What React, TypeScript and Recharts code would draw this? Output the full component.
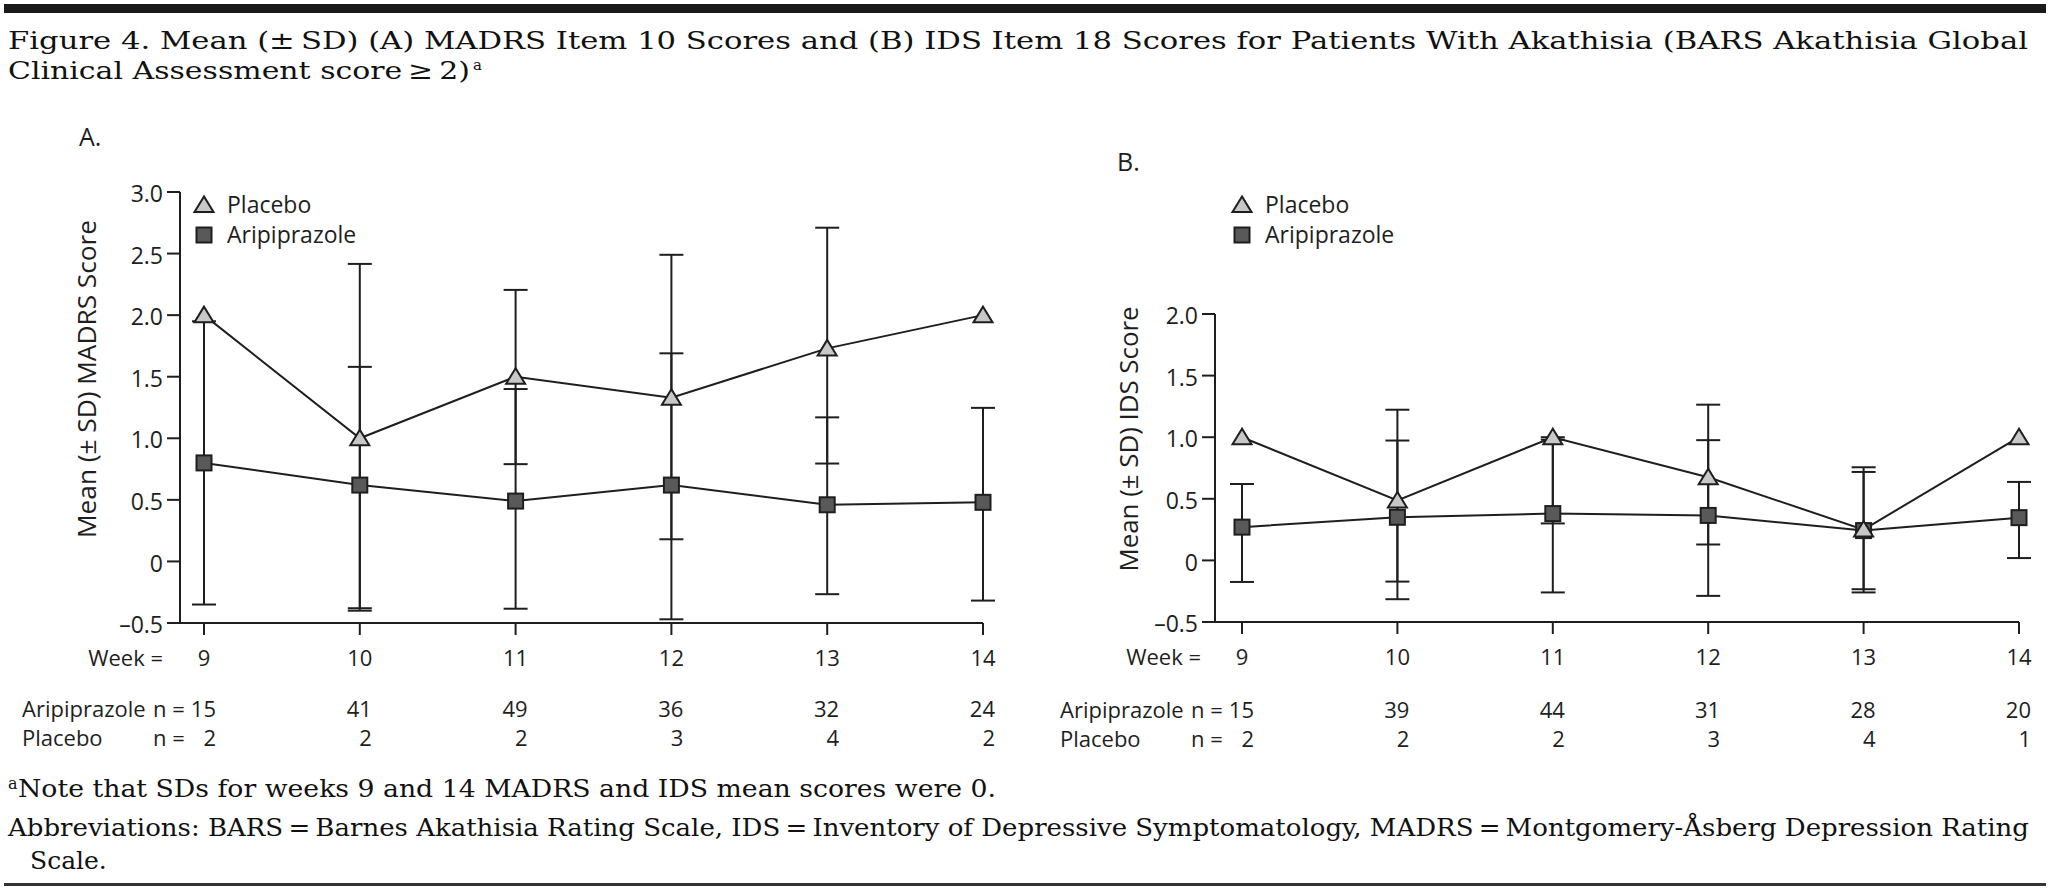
import React from 'react';
import { LineChart, Line, XAxis, YAxis, ErrorBar, Legend } from 'recharts';

// ---------- shared categories ----------
const weeks = [9, 10, 11, 12, 13, 14];
const weekTickLabels = ['9', '10', '11', '12', '13', '14'];
const seriesNames = ['Placebo', 'Aripiprazole'];

// ---------- Panel A: MADRS item 10 ----------
const madrsPlaceboMean = [2.0, 1.0, 1.5, 1.33, 1.73, 2.0];
const madrsPlaceboSdMinus = [0, 1.4, 0.71, 1.15, 0.935, 0];
const madrsPlaceboSdPlus = [0, 1.416, 0.705, 1.16, 0.98, 0];
const madrsAripMean = [0.8, 0.62, 0.49, 0.62, 0.46, 0.48];
const madrsAripSdMinus = [1.15, 1.0, 0.874, 1.09, 0.726, 0.798];
const madrsAripSdPlus = [1.15, 0.96, 0.91, 1.07, 0.71, 0.767];
const madrsAripN = [15, 41, 49, 36, 32, 24];
const madrsPlaceboN = [2, 2, 2, 3, 4, 2];
const madrsYTicks = [-0.5, 0, 0.5, 1, 1.5, 2, 2.5, 3];
const madrsYTickLabels = ['\u20130.5', '0', '0.5', '1.0', '1.5', '2.0', '2.5', '3.0'];

// ---------- Panel B: IDS item 18 ----------
const idsPlaceboMean = [1.0, 0.486, 1.0, 0.675, 0.25, 1.0];
const idsPlaceboSdMinus = [0, 0.658, 0.7, 0.546, 0.51, 0];
const idsPlaceboSdPlus = [0, 0.737, 0, 0.589, 0.506, 0];
const idsAripMean = [0.27, 0.35, 0.38, 0.365, 0.242, 0.347];
const idsAripSdMinus = [0.445, 0.665, 0.64, 0.653, 0.476, 0.328];
const idsAripSdPlus = [0.35, 0.623, 0.6, 0.611, 0.476, 0.29];
const idsAripN = [15, 39, 44, 31, 28, 20];
const idsPlaceboN = [2, 2, 2, 3, 4, 1];
const idsYTicks = [-0.5, 0, 0.5, 1, 1.5, 2];
const idsYTickLabels = ['\u20130.5', '0', '0.5', '1.0', '1.5', '2.0'];

// ---------- texts ----------
const titleLine1 =
  'Figure 4. Mean (\u00B1\u2009SD) (A) MADRS Item 10 Scores and (B) IDS Item 18 Scores for Patients With Akathisia (BARS Akathisia Global';
const titleLine2 = 'Clinical Assessment score\u2009\u2265\u20092)';
const footNote = 'Note that SDs for weeks 9 and 14 MADRS and IDS mean scores were 0.';
const abbrevLine1 =
  'Abbreviations: BARS\u2009=\u2009Barnes Akathisia Rating Scale, IDS\u2009=\u2009Inventory of Depressive Symptomatology, MADRS\u2009=\u2009Montgomery-\u00C5sberg Depression Rating';
const abbrevLine2 = 'Scale.';
const yLabelA = 'Mean (\u00B1 SD) MADRS Score';
const yLabelB = 'Mean (\u00B1 SD) IDS Score';

// ---------- style ----------
const SANS = '"Open Sans", "Noto Sans", sans-serif';
const SERIF = '"DejaVu Serif", "Liberation Serif", serif';
const INK = '#1e1e1e';
const PLACEBO_FILL = '#c8c8c8';
const ARIP_FILL = '#595959';

const triPoints = (cx: number, cy: number) =>
  `${cx},${cy - 8.5} ${cx - 9.5},${cy + 7} ${cx + 9.5},${cy + 7}`;

const TriangleDot = (props: any) => {
  const { cx, cy, index } = props;
  if (cx == null || cy == null) return <g key={`t${index}`} />;
  return (
    <polygon
      key={`t${index}`}
      points={triPoints(cx, cy)}
      fill={PLACEBO_FILL}
      stroke={INK}
      strokeWidth={2}
    />
  );
};

const SquareDot = (props: any) => {
  const { cx, cy, index } = props;
  if (cx == null || cy == null) return <g key={`s${index}`} />;
  return (
    <rect
      key={`s${index}`}
      x={cx - 7.5}
      y={cy - 7.5}
      width={15}
      height={15}
      fill={ARIP_FILL}
      stroke={INK}
      strokeWidth={2}
    />
  );
};

function errPair(minus: number, plus: number) {
  if (minus === 0 && plus === 0) return null;
  return [minus, plus];
}

function buildRows(
  pm: number[], pMinus: number[], pPlus: number[],
  am: number[], aMinus: number[], aPlus: number[]
) {
  return weeks.map((w, i) => ({
    week: w,
    placebo: pm[i],
    placeboErr: errPair(pMinus[i], pPlus[i]),
    arip: am[i],
    aripErr: errPair(aMinus[i], aPlus[i]),
  }));
}

const rowsA = buildRows(
  madrsPlaceboMean, madrsPlaceboSdMinus, madrsPlaceboSdPlus,
  madrsAripMean, madrsAripSdMinus, madrsAripSdPlus
);
const rowsB = buildRows(
  idsPlaceboMean, idsPlaceboSdMinus, idsPlaceboSdPlus,
  idsAripMean, idsAripSdMinus, idsAripSdPlus
);

const makeXTick = (
  aripN: number[],
  placeboN: number[],
  off: { week: number; arip: number; placebo: number }
) => (props: any) => {
  const { x, y, payload, index } = props;
  const i = weeks.indexOf(payload.value);
  const ts = { fontFamily: SANS, fontSize: 22, fill: INK } as const;
  return (
    <g key={`xt${index}`}>
      <text x={x} y={y + off.week} textAnchor="middle" style={ts}>
        {weekTickLabels[i]}
      </text>
      <text x={x + 12} y={y + off.arip} textAnchor="end" style={ts}>
        {String(aripN[i])}
      </text>
      <text x={x + 12} y={y + off.placebo} textAnchor="end" style={ts}>
        {String(placeboN[i])}
      </text>
      {i === 0 && (
        <g>
          <text x={x - 41} y={y + off.week} textAnchor="end" style={ts}>Week =</text>
          <text x={x - 182} y={y + off.arip} style={ts}>Aripiprazole</text>
          <text x={x - 51} y={y + off.arip} style={ts}>n =</text>
          <text x={x - 182} y={y + off.placebo} style={ts}>{seriesNames[0]}</text>
          <text x={x - 51} y={y + off.placebo} style={ts}>n =</text>
        </g>
      )}
    </g>
  );
};

const LegendBox = () => (
  <svg width={200} height={64} style={{ overflow: 'visible', display: 'block' }}>
    <polygon points={triPoints(20, 20)} fill={PLACEBO_FILL} stroke={INK} strokeWidth={2} />
    <text x={43} y={28} style={{ fontFamily: SANS, fontSize: 23, fill: INK }}>{seriesNames[0]}</text>
    <rect x={12.5} y={42.5} width={15} height={15} fill={ARIP_FILL} stroke={INK} strokeWidth={2} />
    <text x={43} y={58} style={{ fontFamily: SANS, fontSize: 23, fill: INK }}>{seriesNames[1]}</text>
  </svg>
);

type PanelProps = {
  rows: any[];
  width: number;
  margin: { top: number; right: number; bottom: number; left: number };
  yDomain: [number, number];
  yTicks: number[];
  yTickLabels: string[];
  xPadLeft: number;
  aripN: number[];
  placeboN: number[];
  off: { week: number; arip: number; placebo: number };
  legendPos: { left: number; top: number };
};

const Panel = (p: PanelProps) => (
  <LineChart width={p.width} height={892} data={p.rows} margin={p.margin}>
    <XAxis
      dataKey="week"
      type="number"
      domain={[9, 14]}
      ticks={weeks}
      interval={0}
      padding={{ left: p.xPadLeft, right: 0 }}
      height={30}
      tickSize={12}
      tickMargin={0}
      axisLine={{ stroke: INK, strokeWidth: 2 }}
      tickLine={{ stroke: INK, strokeWidth: 2 }}
      tick={makeXTick(p.aripN, p.placeboN, p.off)}
    />
    <YAxis
      type="number"
      domain={p.yDomain}
      ticks={p.yTicks}
      interval={0}
      width={60}
      tickSize={13}
      tickMargin={4}
      axisLine={{ stroke: INK, strokeWidth: 2 }}
      tickLine={{ stroke: INK, strokeWidth: 2 }}
      tick={{ fontFamily: SANS, fontSize: 23, fill: INK, dy: 2 }}
      tickFormatter={(v: number) => p.yTickLabels[p.yTicks.indexOf(v)] ?? String(v)}
    />
    <Legend
      layout="vertical"
      align="center"
      verticalAlign="middle"
      wrapperStyle={{ left: p.legendPos.left, top: p.legendPos.top, width: 200, height: 64 }}
      content={() => <LegendBox />}
    />
    <Line
      dataKey="arip"
      name={seriesNames[1]}
      type="linear"
      stroke={INK}
      strokeWidth={2}
      dot={(d: any) => <SquareDot key={`sq${d.index}`} {...d} />}
      activeDot={false}
      isAnimationActive={false}
    >
      <ErrorBar dataKey="aripErr" direction="y" width={12} stroke={INK} strokeWidth={2} />
    </Line>
    <Line
      dataKey="placebo"
      name={seriesNames[0]}
      type="linear"
      stroke={INK}
      strokeWidth={2}
      dot={(d: any) => <TriangleDot key={`tr${d.index}`} {...d} />}
      activeDot={false}
      isAnimationActive={false}
    >
      <ErrorBar dataKey="placeboErr" direction="y" width={12} stroke={INK} strokeWidth={2} />
    </Line>
  </LineChart>
);

export default function App() {
  return (
    <div
      style={{
        position: 'absolute',
        left: 0,
        top: 0,
        width: 2050,
        height: 892,
        background: '#ffffff',
        overflow: 'hidden',
      }}
    >
      <div style={{ position: 'absolute', left: 0, top: 0 }}>
        <Panel
          rows={rowsA}
          width={1000}
          margin={{ top: 192, right: 17, bottom: 239, left: 120 }}
          yDomain={[-0.5, 3]}
          yTicks={madrsYTicks}
          yTickLabels={madrsYTickLabels}
          xPadLeft={24}
          aripN={madrsAripN}
          placeboN={madrsPlaceboN}
          off={{ week: 31, arip: 82, placebo: 111 }}
          legendPos={{ left: 184, top: 185 }}
        />
      </div>
      <div style={{ position: 'absolute', left: 1000, top: 0 }}>
        <Panel
          rows={rowsB}
          width={1040}
          margin={{ top: 314, right: 21, bottom: 240, left: 155 }}
          yDomain={[-0.5, 2]}
          yTicks={idsYTicks}
          yTickLabels={idsYTickLabels}
          xPadLeft={27}
          aripN={idsAripN}
          placeboN={idsPlaceboN}
          off={{ week: 31, arip: 84, placebo: 113 }}
          legendPos={{ left: 222, top: 185 }}
        />
      </div>
      <svg
        width={2050}
        height={892}
        style={{ position: 'absolute', left: 0, top: 0, pointerEvents: 'none' }}
      >
        <rect x={4} y={4} width={2042} height={9} fill="#1a1a1a" />
        <text x={8} y={49} textLength={2020} lengthAdjust="spacingAndGlyphs"
          style={{ fontFamily: SERIF, fontSize: 25, fill: '#111' }}>{titleLine1}</text>
        <text x={8} y={79} textLength={462} lengthAdjust="spacingAndGlyphs"
          style={{ fontFamily: SERIF, fontSize: 25, fill: '#111' }}>{titleLine2}</text>
        <text x={473} y={70} style={{ fontFamily: SERIF, fontSize: 15, fill: '#111' }}>a</text>

        <text x={79} y={146} style={{ fontFamily: SANS, fontSize: 25, fill: INK }}>A.</text>
        <text x={1117} y={171} style={{ fontFamily: SANS, fontSize: 25, fill: INK }}>B.</text>

        <text transform="translate(96,379) rotate(-90)" textAnchor="middle"
          textLength={318} lengthAdjust="spacingAndGlyphs"
          style={{ fontFamily: SANS, fontSize: 26, fill: INK }}>{yLabelA}</text>
        <text transform="translate(1138,439) rotate(-90)" textAnchor="middle"
          textLength={265} lengthAdjust="spacingAndGlyphs"
          style={{ fontFamily: SANS, fontSize: 26, fill: INK }}>{yLabelB}</text>

        <text x={8} y={789} style={{ fontFamily: SERIF, fontSize: 16, fill: '#111' }}>a</text>
        <text x={18} y={797} textLength={978} lengthAdjust="spacingAndGlyphs"
          style={{ fontFamily: SERIF, fontSize: 25, fill: '#111' }}>{footNote}</text>
        <text x={8} y={836} textLength={2021} lengthAdjust="spacingAndGlyphs"
          style={{ fontFamily: SERIF, fontSize: 25, fill: '#111' }}>{abbrevLine1}</text>
        <text x={30} y={869} style={{ fontFamily: SERIF, fontSize: 25, fill: '#111' }}>{abbrevLine2}</text>
        <rect x={4} y={883} width={2042} height={3} fill="#333" />
      </svg>
    </div>
  );
}
